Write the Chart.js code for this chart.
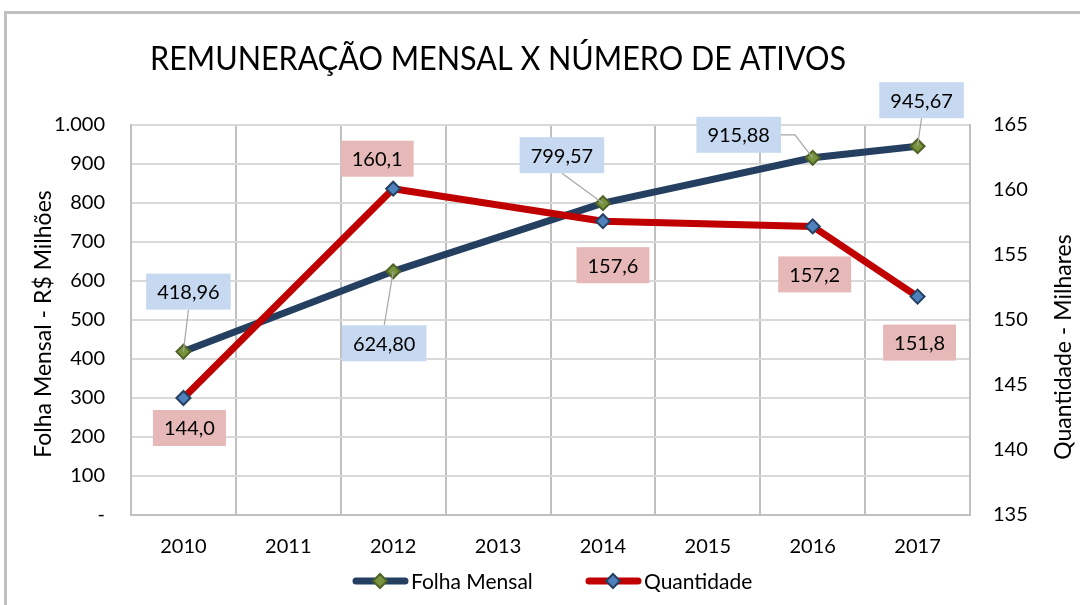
<!DOCTYPE html>
<html>
<head>
<meta charset="utf-8">
<script src="https://cdn.jsdelivr.net/npm/chart.js@4"></script>
<style>
  html, body { margin: 0; padding: 0; background: #fff; }
  #wrap { position: relative; width: 1080px; height: 605px; }
  #frame { position: absolute; left: 4px; top: 11px; width: 1080px; height: 600px;
           border-left: 3px solid #c0c0c0; border-top: 3px solid #c0c0c0; }
  canvas { position: absolute; left: 0; top: 0; }
</style>
</head>
<body>
<div id="wrap">
  <div id="frame"></div>
  <canvas id="grafico" width="1080" height="605"></canvas>
</div>
<script>
// dati
const anni = ["2010", "2011", "2012", "2013", "2014", "2015", "2016", "2017"];
const folhaMensal = [418.96, null, 624.80, null, 799.57, null, 915.88, 945.67];
const quantidade = [144.0, null, 160.1, null, 157.6, null, 157.2, 151.8];
const ticksSinistra = [0, 100, 200, 300, 400, 500, 600, 700, 800, 900, 1000];
const ticksDestra = [135, 140, 145, 150, 155, 160, 165];

// spostamento delle etichette rispetto al punto (centro del box)
const offsetFolha = [[5, -60], null, [-9, 72], null, [-41, -48], null, [-74, -23], [4, -46]];
const offsetQuant = [[6, 30], null, [-16, -30], null, [10, 44], null, [2, 48], [2, 46]];

const FONT = "Lato, 'Open Sans', sans-serif";

const fmt = (v, dec) => v.toFixed(dec).replace(".", ",");
const fmtSinistra = (v) => {
  if (v === 0) return "-";
  if (v >= 1000) return "1.000";
  return String(v);
};

// plugin per titoli, etichette e legenda
const decorazioni = {
  id: "decorazioni",
  afterDatasetsDraw(chart) {
    const ctx = chart.ctx;
    ctx.save();

    // etichette dei dati
    const disegnaEtichette = (dsIndex, valori, offsets, dec, colore, conLinea) => {
      const meta = chart.getDatasetMeta(dsIndex);
      valori.forEach((v, i) => {
        if (v === null || !offsets[i]) return;
        const p = meta.data[i];
        const testo = fmt(v, dec);
        ctx.font = "20px " + FONT;
        const w = ctx.measureText(testo).width + 22;
        const h = 36;
        const cx = p.x + offsets[i][0];
        const cy = p.y + offsets[i][1];
        if (conLinea) {
          ctx.strokeStyle = "#a6a6a6";
          ctx.lineWidth = 1.2;
          ctx.beginPath();
          if (offsets[i][0] < -50) {
            ctx.moveTo(cx + w / 2, cy);
            ctx.lineTo(cx + w / 2 + 14, cy);
            ctx.lineTo(p.x, p.y);
          } else if (offsets[i][1] < 0) {
            ctx.moveTo(cx, cy + h / 2);
            ctx.lineTo(p.x, p.y);
          } else {
            ctx.moveTo(cx, cy - h / 2);
            ctx.lineTo(p.x, p.y);
          }
          ctx.stroke();
        }
        ctx.fillStyle = colore;
        ctx.fillRect(cx - w / 2, cy - h / 2, w, h);
        ctx.fillStyle = "#000";
        ctx.textAlign = "center";
        ctx.textBaseline = "middle";
        ctx.fillText(testo, cx, cy + 1);
      });
    };
    disegnaEtichette(0, folhaMensal, offsetFolha, 2, "#c6d9f1", true);
    disegnaEtichette(1, quantidade, offsetQuant, 1, "#e6b9b8", false);

    // titolo principale
    ctx.fillStyle = "#000";
    ctx.textBaseline = "middle";
    ctx.textAlign = "left";
    ctx.font = "32px " + FONT;
    const titolo = "REMUNERAÇÃO MENSAL X NÚMERO DE ATIVOS";
    const tw = ctx.measureText(titolo).width;
    ctx.save();
    ctx.translate(150, 60);
    ctx.scale(696 / tw, 1);
    ctx.fillText(titolo, 0, 0);
    ctx.restore();

    // titoli assi
    ctx.font = "23px " + FONT;
    ctx.textAlign = "center";
    ctx.save();
    ctx.translate(44, 324);
    ctx.rotate(-Math.PI / 2);
    ctx.fillText("Folha Mensal - R$ Milhões", 0, 0);
    ctx.restore();
    ctx.save();
    ctx.translate(1064, 347);
    ctx.rotate(-Math.PI / 2);
    ctx.fillText("Quantidade - Milhares", 0, 0);
    ctx.restore();

    // legenda
    const voci = [
      { testo: "Folha Mensal", x: 353, linea: "#243f60", punto: "#77933c", bordo: "#4f6228" },
      { testo: "Quantidade", x: 586, linea: "#c00000", punto: "#4f81bd", bordo: "#254061" },
    ];
    const ly = 581;
    voci.forEach((v) => {
      ctx.strokeStyle = v.linea;
      ctx.lineWidth = 7;
      ctx.lineCap = "round";
      ctx.beginPath();
      ctx.moveTo(v.x + 3, ly);
      ctx.lineTo(v.x + 52, ly);
      ctx.stroke();
      const mx = v.x + 27;
      ctx.fillStyle = v.punto;
      ctx.strokeStyle = v.bordo;
      ctx.lineWidth = 2;
      ctx.beginPath();
      ctx.moveTo(mx, ly - 7);
      ctx.lineTo(mx + 7, ly);
      ctx.lineTo(mx, ly + 7);
      ctx.lineTo(mx - 7, ly);
      ctx.closePath();
      ctx.fill();
      ctx.stroke();
      ctx.fillStyle = "#000";
      ctx.font = "21px " + FONT;
      ctx.textAlign = "left";
      ctx.fillText(v.testo, v.x + 58, ly + 1);
    });

    ctx.restore();
  },
};

const ctx = document.getElementById("grafico");

new Chart(ctx, {
  type: "line",
  data: {
    labels: anni,
    datasets: [
      {
        label: "Folha Mensal",
        data: folhaMensal,
        yAxisID: "y",
        borderColor: "#243f60",
        borderWidth: 7,
        spanGaps: true,
        pointStyle: "rectRot",
        pointRadius: 7,
        pointBackgroundColor: "#77933c",
        pointBorderColor: "#4f6228",
        pointBorderWidth: 2,
        order: 2,
      },
      {
        label: "Quantidade",
        data: quantidade,
        yAxisID: "y1",
        borderColor: "#c00000",
        borderWidth: 7,
        spanGaps: true,
        pointStyle: "rectRot",
        pointRadius: 7,
        pointBackgroundColor: "#4f81bd",
        pointBorderColor: "#254061",
        pointBorderWidth: 2,
        order: 1,
      },
    ],
  },
  options: {
    responsive: false,
    animation: false,
    layout: { padding: { top: 125, left: 0, right: 0, bottom: 0 } },
    plugins: {
      legend: { display: false },
      title: { display: false },
      tooltip: { enabled: false },
    },
    scales: {
      x: {
        offset: true,
        grid: { offset: true, color: "#c0c0c0", lineWidth: 2, drawTicks: false },
        border: { color: "#c0c0c0", width: 2 },
        ticks: { color: "#000", font: { family: FONT, size: 20 }, padding: 20 },
        afterFit: (s) => { s.height = 90; },
      },
      y: {
        position: "left",
        min: 0,
        max: 1000,
        afterBuildTicks: (s) => { s.ticks = ticksSinistra.map((v) => ({ value: v })); },
        grid: { color: "#d9d9d9", lineWidth: 2, drawTicks: false },
        border: { color: "#c0c0c0", width: 2 },
        ticks: {
          color: "#000",
          font: { family: FONT, size: 20 },
          padding: 26,
          callback: (v) => fmtSinistra(v),
        },
        afterFit: (s) => { s.width = 131; },
      },
      y1: {
        position: "right",
        min: 135,
        max: 165,
        afterBuildTicks: (s) => { s.ticks = ticksDestra.map((v) => ({ value: v })); },
        grid: { drawOnChartArea: false, drawTicks: false },
        border: { color: "#c0c0c0", width: 2 },
        ticks: { color: "#000", font: { family: FONT, size: 20 }, padding: 23 },
        afterFit: (s) => { s.width = 110; },
      },
    },
  },
  plugins: [decorazioni],
});
</script>
</body>
</html>
